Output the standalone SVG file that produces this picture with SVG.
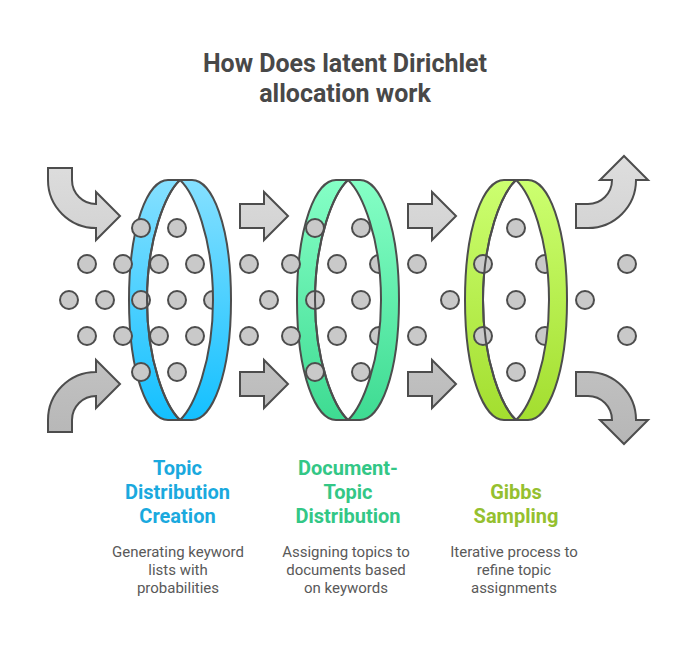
<svg xmlns="http://www.w3.org/2000/svg" width="696" height="649" viewBox="0 0 696 649">
<style>
text{font-family:Roboto,"Liberation Sans",sans-serif;text-anchor:middle}
.t{font-size:25px;font-weight:700;fill:#484848}
.h{font-size:20px;font-weight:700}
.d{font-size:15px;fill:#595959}
.a{fill:url(#g);stroke:#4d4d4d;stroke-width:2;stroke-linejoin:miter}
.dot{fill:#c9c9c9;stroke:#4d4d4d;stroke-width:2}
.l{fill:none;stroke:#4d4d4d;stroke-width:2}
.c1{fill:#1aa9de}.c2{fill:#33c786}.c3{fill:#95c02f}
</style>
<defs>
<linearGradient id="g" gradientUnits="userSpaceOnUse" x1="0" y1="156" x2="0" y2="444"><stop offset="0" stop-color="#dedede"/><stop offset="1" stop-color="#b6b6b6"/></linearGradient>
<linearGradient id="b" gradientUnits="userSpaceOnUse" x1="0" y1="180" x2="0" y2="420"><stop offset="0" stop-color="#85e0ff"/><stop offset="1" stop-color="#14c0ff"/></linearGradient>
<linearGradient id="gr" gradientUnits="userSpaceOnUse" x1="0" y1="180" x2="0" y2="420"><stop offset="0" stop-color="#85ffc6"/><stop offset="1" stop-color="#3edb92"/></linearGradient>
<linearGradient id="y" gradientUnits="userSpaceOnUse" x1="0" y1="180" x2="0" y2="420"><stop offset="0" stop-color="#ccff70"/><stop offset="1" stop-color="#a3de2f"/></linearGradient>
</defs>
<text class="t" x="345" y="72">How Does latent Dirichlet</text>
<text class="t" x="345" y="102">allocation work</text>
<g id="connectors">
<path class="a" d="M48 168H72V180A24 24 0 0 0 96 204V192L120 216L96 240V228A48 48 0 0 1 48 180Z"/>
<path class="a" d="M48 432H72V420A24 24 0 0 1 96 396V408L120 384L96 360V372A48 48 0 0 0 48 420Z"/>
<path class="a" d="M240 204H264V192L288 216L264 240V228H240Z"/>
<path class="a" d="M240 372H264V360L288 384L264 408V396H240Z"/>
<path class="a" d="M408 204H432V192L456 216L432 240V228H408Z"/>
<path class="a" d="M408 372H432V360L456 384L432 408V396H408Z"/>
<path class="a" d="M576 204H588A24 24 0 0 0 612 180H600L624 156L648 180H636A48 48 0 0 1 588 228H576Z"/>
<path class="a" d="M576 396H588A24 24 0 0 1 612 420H600L624 444L648 420H636A48 48 0 0 0 588 372H576Z"/>
</g>
<g id="node-topic">
<path class="l" style="fill:url(#b)" d="M168 180C148 180 129 225 129 300C129 375 148 420 168 420H180C166 407 147 362 147 300C147 238 166 193 180 180Z"/>
<g class="dot"><circle cx="87" cy="264" r="9"/><circle cx="123" cy="264" r="9"/><circle cx="159" cy="264" r="9"/><circle cx="195" cy="264" r="9"/><circle cx="69" cy="300" r="9"/><circle cx="105" cy="300" r="9"/><circle cx="141" cy="300" r="9"/><circle cx="177" cy="300" r="9"/><circle cx="213" cy="300" r="9"/><circle cx="87" cy="336" r="9"/><circle cx="123" cy="336" r="9"/><circle cx="159" cy="336" r="9"/><circle cx="195" cy="336" r="9"/><circle cx="141" cy="228" r="9"/><circle cx="177" cy="228" r="9"/><circle cx="141" cy="372" r="9"/><circle cx="177" cy="372" r="9"/></g>
<path class="l" d="M180 180C166 193 147 238 147 300C147 362 166 407 180 420"/>
<path class="l" style="fill:url(#b)" d="M192 180C212 180 231 225 231 300C231 375 212 420 192 420H180C194 407 213 362 213 300C213 238 194 193 180 180Z"/>
<text class="h c1" x="177.500" y="475">Topic</text>
<text class="h c1" x="177.500" y="499">Distribution</text>
<text class="h c1" x="177.500" y="523">Creation</text>
<text class="d" x="178" y="557">Generating keyword</text>
<text class="d" x="178" y="575">lists with</text>
<text class="d" x="178" y="593">probabilities</text>
</g>
<g id="node-document">
<path class="l" style="fill:url(#gr)" d="M336 180C316 180 297 225 297 300C297 375 316 420 336 420H348C334 407 315 362 315 300C315 238 334 193 348 180Z"/>
<g class="dot"><circle cx="249" cy="264" r="9"/><circle cx="291" cy="264" r="9"/><circle cx="337" cy="264" r="9"/><circle cx="379" cy="264" r="9"/><circle cx="417" cy="264" r="9"/><circle cx="269" cy="300" r="9"/><circle cx="315" cy="300" r="9"/><circle cx="361" cy="300" r="9"/><circle cx="249" cy="336" r="9"/><circle cx="291" cy="336" r="9"/><circle cx="337" cy="336" r="9"/><circle cx="379" cy="336" r="9"/><circle cx="417" cy="336" r="9"/><circle cx="315" cy="228" r="9"/><circle cx="361" cy="228" r="9"/><circle cx="315" cy="372" r="9"/><circle cx="361" cy="372" r="9"/></g>
<path class="l" d="M348 180C334 193 315 238 315 300C315 362 334 407 348 420"/>
<path class="l" style="fill:url(#gr)" d="M360 180C380 180 399 225 399 300C399 375 380 420 360 420H348C362 407 381 362 381 300C381 238 362 193 348 180Z"/>
<text class="h c2" x="348" y="475">Document-</text>
<text class="h c2" x="348" y="499">Topic</text>
<text class="h c2" x="348" y="523">Distribution</text>
<text class="d" x="346" y="557">Assigning topics to</text>
<text class="d" x="346" y="575">documents based</text>
<text class="d" x="346" y="593">on keywords</text>
</g>
<g id="node-gibbs">
<path class="l" style="fill:url(#y)" d="M504 180C484 180 465 225 465 300C465 375 484 420 504 420H516C502 407 483 362 483 300C483 238 502 193 516 180Z"/>
<g class="dot"><circle cx="483" cy="264" r="9"/><circle cx="545" cy="264" r="9"/><circle cx="627" cy="264" r="9"/><circle cx="450" cy="300" r="9"/><circle cx="516" cy="300" r="9"/><circle cx="585" cy="300" r="9"/><circle cx="483" cy="336" r="9"/><circle cx="545" cy="336" r="9"/><circle cx="627" cy="336" r="9"/><circle cx="516" cy="228" r="9"/><circle cx="516" cy="372" r="9"/></g>
<path class="l" d="M516 180C502 193 483 238 483 300C483 362 502 407 516 420"/>
<path class="l" style="fill:url(#y)" d="M528 180C548 180 567 225 567 300C567 375 548 420 528 420H516C530 407 549 362 549 300C549 238 530 193 516 180Z"/>
<text class="h c3" x="516" y="499">Gibbs</text>
<text class="h c3" x="516" y="523">Sampling</text>
<text class="d" x="514" y="557">Iterative process to</text>
<text class="d" x="514" y="575">refine topic</text>
<text class="d" x="514" y="593">assignments</text>
</g>
</svg>
